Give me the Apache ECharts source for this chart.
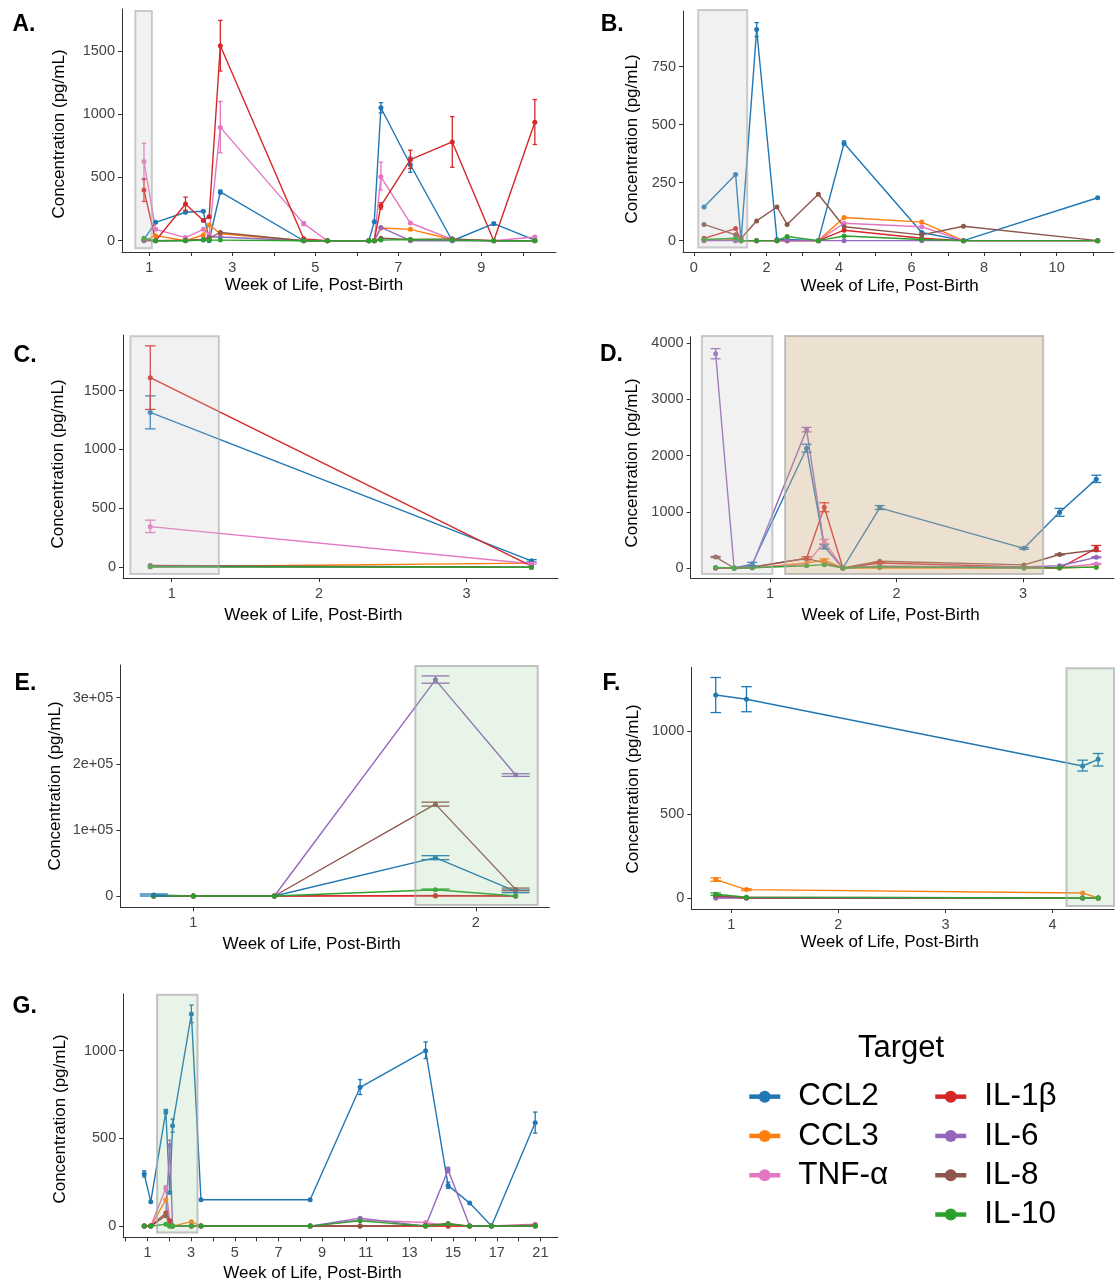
<!DOCTYPE html>
<html><head><meta charset="utf-8">
<script src="https://cdn.jsdelivr.net/npm/echarts@6/dist/echarts.min.js"></script>
<style>html,body{margin:0;padding:0;background:#fff}#c{width:1115px;height:1285px}</style>
</head><body><div id="c"></div>
<script>
// ---------------- DATA ----------------
const targets = ['CCL2', 'CCL3', 'TNF-α', 'IL-1β', 'IL-6', 'IL-8', 'IL-10'];

// Panel A
const aWeeks = [0.87, 1.15, 1.87, 2.30, 2.44, 2.71, 4.72, 5.29, 6.29, 6.42, 6.58, 7.29, 8.30, 9.30, 10.29];
const aCCL2 = [10, 145, 225, 233, 0, 385, 0, 0, 0, 150, 1050, 600, 0, 135, 5];
const aCCL3 = [0, 40, 0, 45, 125, 55, 0, 0, 0, 0, 100, 90, 10, 0, 0];
const aTNF  = [625, 90, 25, 90, 50, 895, 135, 0, 0, 0, 505, 140, 10, 0, 30];
const aIL1b = [400, 0, 290, 160, 190, 1540, 15, 0, 0, 0, 275, 640, 780, 0, 935];
const aIL6  = [0, 0, 0, 10, 30, 30, 0, 0, 0, 0, 105, 0, 0, 0, 0];
const aIL8  = [5, 0, 5, 10, 20, 65, 0, 0, 0, 0, 20, 10, 15, 0, 0];
const aIL10 = [20, 0, 0, 5, 5, 5, 0, 0, 0, 0, 5, 10, 5, 0, 0];
const aErrors = [
  ['TNF-α', 0.87, 480, 770], ['IL-1β', 0.87, 310, 490], ['IL-1β', 1.87, 240, 345],
  ['CCL2', 2.71, 370, 400], ['IL-1β', 2.71, 1340, 1740], ['TNF-α', 2.71, 695, 1100],
  ['TNF-α', 4.72, 120, 150], ['CCL2', 6.58, 1010, 1090], ['TNF-α', 6.58, 400, 620],
  ['IL-1β', 6.58, 250, 300], ['CCL2', 7.29, 540, 660], ['IL-1β', 7.29, 570, 715],
  ['IL-1β', 8.30, 580, 980], ['IL-1β', 10.29, 760, 1115], ['CCL2', 9.30, 125, 145]
];
const aWindows = [['grey', 0.66, -60, 1.06, 1815]];
const aXTicks = [1, 2, 3, 4, 5, 6, 7, 8, 9, 10];
const aXLabels = [1, 3, 5, 7, 9];
const aYTicks = [0, 500, 1000, 1500];

// Panel B
const bWeeks = [0.28, 1.15, 1.30, 1.73, 2.29, 2.57, 3.43, 4.14, 6.28, 7.43, 11.13];
const bCCL2 = [145, 285, 0, 910, 5, 5, 0, 420, 35, 0, 185];
const bCCL3 = [0, 5, 0, 0, 0, 0, 0, 100, 80, 0, 0];
const bTNF  = [5, 0, 0, 0, 0, 0, 0, 75, 60, 0, 0];
const bIL1b = [10, 52, 0, 0, 0, 0, 0, 45, 10, 0, 0];
const bIL6  = [0, 0, 0, 0, 0, 0, 0, 0, 0, 0, 0];
const bIL8  = [70, 25, 10, 85, 145, 70, 200, 60, 25, 62, 0];
const bIL10 = [5, 10, 0, 0, 0, 18, 0, 20, 5, 0, 0];
const bErrors = [['CCL2', 1.73, 880, 940], ['CCL2', 4.14, 412, 430]];
const bWindows = [['grey', 0.12, -30, 1.47, 994]];
const bXTicks = [0, 1, 2, 3, 4, 5, 6, 7, 8, 9, 10, 11];
const bXLabels = [0, 2, 4, 6, 8, 10];
const bYTicks = [0, 250, 500, 750];

// Panel C
const cWeeks = [0.855, 3.44];
const cCCL2 = [1315, 55];
const cCCL3 = [5, 35];
const cTNF  = [345, 30];
const cIL1b = [1610, 10];
const cIL6  = [5, 0];
const cIL8  = [15, 0];
const cIL10 = [5, 0];
const cErrors = [
  ['IL-1β', 0.855, 1340, 1880], ['CCL2', 0.855, 1175, 1455], ['TNF-α', 0.855, 295, 400],
  ['CCL2', 3.44, 45, 65], ['TNF-α', 3.44, 25, 40]
];
const cWindows = [['grey', 0.72, -57, 1.32, 1961]];
const cXTicks = [1, 2, 3];
const cXLabels = [1, 2, 3];
const cYTicks = [0, 500, 1000, 1500];

// Panel D
const dWeeks = [0.571, 0.717, 0.86, 1.29, 1.43, 1.577, 1.868, 3.008, 3.29, 3.58];
const dCCL2 = [0, 0, 70, 2130, 380, 0, 1070, 350, 990, 1580];
const dCCL3 = [0, 0, 0, 90, 140, 0, 5, 0, 0, 20];
const dTNF  = [0, 0, 10, 60, 470, 0, 30, 0, 10, 70];
const dIL1b = [0, 0, 10, 175, 1080, 0, 90, 20, 0, 350];
const dIL6  = [3810, 0, 50, 2460, 380, 0, 30, 20, 40, 190];
const dIL8  = [195, 0, 20, 170, 90, 0, 120, 55, 240, 320];
const dIL10 = [10, 0, 5, 40, 60, 0, 20, 0, 5, 15];
const dErrors = [
  ['IL-6', 0.571, 3720, 3900], ['IL-8', 0.571, 185, 205], ['CCL2', 0.86, 40, 100],
  ['IL-6', 1.29, 2420, 2500], ['CCL2', 1.29, 2060, 2200], ['IL-1β', 1.29, 150, 200],
  ['IL-1β', 1.43, 1000, 1160], ['TNF-α', 1.43, 430, 510], ['CCL2', 1.43, 340, 420],
  ['CCL3', 1.43, 110, 160], ['CCL2', 1.868, 1040, 1110], ['IL-1β', 1.868, 80, 110],
  ['CCL2', 3.008, 335, 365], ['CCL2', 3.29, 920, 1060], ['IL-8', 3.29, 230, 250],
  ['CCL2', 3.58, 1520, 1650], ['IL-1β', 3.58, 300, 400], ['IL-6', 3.58, 180, 200],
  ['TNF-α', 3.58, 60, 80]
];
const dWindows = [['grey', 0.462, -107, 1.02, 4124], ['tan', 1.12, -107, 3.16, 4124]];
const dXTicks = [1, 2, 3];
const dXLabels = [1, 2, 3];
const dYTicks = [0, 1000, 2000, 3000, 4000];

// Panel E
const eWeeks = [0.86, 1.0, 1.287, 1.857, 2.141];
const eCCL2 = [1500, 0, 0, 58000, 7000];
const eCCL3 = [0, 0, 0, 0, 0];
const eTNF  = [0, 0, 0, 800, 0];
const eIL1b = [0, 0, 0, 500, 0];
const eIL6  = [0, 0, 0, 327000, 183000];
const eIL8  = [0, 0, 0, 139000, 10000];
const eIL10 = [0, 0, 0, 9500, 0];
const eErrors = [
  ['IL-6', 1.857, 322000, 333000], ['IL-6', 2.141, 181000, 185000],
  ['IL-8', 1.857, 136000, 142000], ['IL-8', 2.141, 8000, 12000],
  ['CCL2', 1.857, 55000, 61000], ['CCL2', 2.141, 5000, 9000],
  ['CCL2', 0.86, 0, 3000], ['IL-10', 1.857, 8500, 10500]
];
const eWindows = [['green', 1.786, -13600, 2.219, 348000]];
const eXTicks = [1, 2];
const eXLabels = [1, 2];
const eYTicks = [0, 100000, 200000, 300000];
const eYLabels = ['0', '1e+05', '2e+05', '3e+05'];

// Panel F
const fWeeks = [0.855, 1.142, 4.28, 4.425];
const fCCL2 = [1215, 1190, 790, 830];
const fCCL3 = [110, 50, 30, 0];
const fTNF  = [0, 5, 0, 0];
const fIL1b = [10, 0, 0, 0];
const fIL6  = [0, 0, 0, 0];
const fIL8  = [15, 0, 0, 0];
const fIL10 = [22, 5, 0, 0];
const fErrors = [
  ['CCL2', 0.855, 1110, 1320], ['CCL2', 1.142, 1115, 1265], ['CCL2', 4.28, 760, 825],
  ['CCL2', 4.425, 790, 865], ['CCL3', 0.855, 100, 120], ['CCL3', 1.142, 45, 55],
  ['IL-10', 0.855, 15, 30]
];
const fWindows = [['green', 4.13, -48, 4.573, 1375]];
const fXTicks = [1, 2, 3, 4];
const fXLabels = [1, 2, 3, 4];
const fYTicks = [0, 500, 1000];

// Panel G
const gWeeks = [0.85, 1.15, 1.84, 2.02, 2.15, 3.01, 3.45, 8.45, 10.74, 13.74, 14.77, 15.76, 16.76, 18.76];
const gCCL2 = [297, 139, 652, 192, 572, 1209, 150, 150, 791, 1000, 232, 131, 0, 589];
const gCCL3 = [0, 0, 150, 0, 0, 25, 0, 0, 0, 0, 0, 0, 0, 0];
const gTNF  = [0, 0, 215, 30, 0, 0, 0, 0, 35, 20, 0, 0, 0, 10];
const gIL1b = [0, 0, 75, 30, 0, 0, 0, 0, 0, 0, 0, 0, 0, 0];
const gIL6  = [0, 0, 60, 460, 0, 0, 0, 0, 45, 0, 320, 0, 0, 0];
const gIL8  = [0, 0, 60, 0, 0, 0, 0, 0, 0, 5, 15, 0, 0, 5];
const gIL10 = [0, 0, 10, 0, 0, 0, 0, 0, 30, 0, 10, 0, 0, 0];
const gErrors = [
  ['CCL2', 0.85, 280, 315], ['CCL2', 1.84, 640, 665], ['CCL2', 2.15, 535, 610],
  ['CCL2', 3.01, 1160, 1260], ['CCL2', 10.74, 750, 835], ['CCL2', 13.74, 955, 1050],
  ['CCL2', 14.77, 215, 250], ['CCL2', 18.76, 530, 650], ['TNF-α', 1.84, 200, 230],
  ['IL-6', 2.02, 440, 490], ['IL-6', 14.77, 305, 335]
];
const gWindows = [['green', 1.44, -36, 3.29, 1319]];
const gXTicks = [0, 1, 2, 3, 4, 5, 6, 7, 8, 9, 10, 11, 12, 13, 14, 15, 16, 17, 18, 19];
const gXLabelValues = [1, 3, 5, 7, 9, 11, 13, 15, 17, 19];
const gXLabelTexts = ['1', '3', '5', '7', '9', '11', '13', '15', '17', '21'];
const gYTicks = [0, 500, 1000];

// ---------------- STYLE / LAYOUT ----------------
const FONT = '"Liberation Sans", Arial, Helvetica, sans-serif';
const colors = ['#1f77b4', '#ff7f0e', '#e377c2', '#d62728', '#9467bd', '#8c564b', '#2ca02c'];
const windowStyles = {
  grey:  { fill: 'rgba(200,200,200,0.25)', stroke: 'rgba(170,170,170,0.6)' },
  tan:   { fill: 'rgba(205,175,135,0.38)', stroke: 'rgba(170,170,170,0.7)' },
  green: { fill: 'rgba(140,200,140,0.2)',  stroke: 'rgba(170,170,170,0.7)' }
};

const panels = [
  { letter: 'A.', weeks: aWeeks, vals: [aCCL2, aCCL3, aTNF, aIL1b, aIL6, aIL8, aIL10], err: aErrors, win: aWindows,
    xt: aXTicks, xl: aXLabels, yt: aYTicks,
    L: { left: 122, top: 9, width: 434, height: 243, xMin: 0.34, xMax: 10.8, yMin: -89, yMax: 1830, cap: 2.2, letter: [12.5, 25], xTitle: [314, 285], yTitle: [59, 134] } },
  { letter: 'B.', weeks: bWeeks, vals: [bCCL2, bCCL3, bTNF, bIL1b, bIL6, bIL8, bIL10], err: bErrors, win: bWindows,
    xt: bXTicks, xl: bXLabels, yt: bYTicks,
    L: { left: 683, top: 11, width: 431, height: 241, xMin: -0.30, xMax: 11.58, yMin: -49, yMax: 990, cap: 2.2, letter: [600.7, 25], xTitle: [889.6, 286], yTitle: [632.6, 139] } },
  { letter: 'C.', weeks: cWeeks, vals: [cCCL2, cCCL3, cTNF, cIL1b, cIL6, cIL8, cIL10], err: cErrors, win: cWindows,
    xt: cXTicks, xl: cXLabels, yt: cYTicks,
    L: { left: 123, top: 335, width: 435, height: 243, xMin: 0.67, xMax: 3.62, yMin: -91, yMax: 1972, cap: 5.2, letter: [13.6, 355.8], xTitle: [313.4, 615], yTitle: [58, 464] } },
  { letter: 'D.', weeks: dWeeks, vals: [dCCL2, dCCL3, dTNF, dIL1b, dIL6, dIL8, dIL10], err: dErrors, win: dWindows,
    xt: dXTicks, xl: dXLabels, yt: dYTicks,
    L: { left: 690.6, top: 336.7, width: 423.4, height: 241.6, xMin: 0.373, xMax: 3.72, yMin: -183, yMax: 4112, cap: 5, letter: [600, 355.5], xTitle: [890.6, 615], yTitle: [632.6, 463] } },
  { letter: 'E.', weeks: eWeeks, vals: [eCCL2, eCCL3, eTNF, eIL1b, eIL6, eIL8, eIL10], err: eErrors, win: eWindows,
    xt: eXTicks, xl: eXLabels, yt: eYTicks, ylText: eYLabels,
    L: { left: 120.4, top: 665, width: 428.9, height: 242.3, xMin: 0.742, xMax: 2.26, yMin: -17100, yMax: 349500, cap: 14, letter: [14.6, 683.8], xTitle: [311.6, 944], yTitle: [55.4, 786] } },
  { letter: 'F.', weeks: fWeeks, vals: [fCCL2, fCCL3, fTNF, fIL1b, fIL6, fIL8, fIL10], err: fErrors, win: fWindows,
    xt: fXTicks, xl: fXLabels, yt: fYTicks,
    L: { left: 691.3, top: 667.3, width: 422.7, height: 241.7, xMin: 0.627, xMax: 4.573, yMin: -66, yMax: 1381, cap: 5.3, letter: [602.5, 683.8], xTitle: [889.7, 942.3], yTitle: [633.3, 789] } },
  { letter: 'G.', weeks: gWeeks, vals: [gCCL2, gCCL3, gTNF, gIL1b, gIL6, gIL8, gIL10], err: gErrors, win: gWindows,
    xt: gXTicks, xl: gXLabelValues, xlText: gXLabelTexts, yt: gYTicks,
    L: { left: 123.2, top: 994, width: 434.7, height: 243.3, xMin: -0.113, xMax: 19.8, yMin: -64, yMax: 1323, cap: 2.2, letter: [12.5, 1006.7], xTitle: [312.5, 1273.3], yTitle: [60.7, 1119] } }
];

const grids = [], xAxes = [], yAxes = [], series = [], graphics = [];
const axisCommon = {
  axisLine: { show: true, onZero: false, lineStyle: { color: '#333', width: 1 } },
  splitLine: { show: false }
};

panels.forEach((p, i) => {
  const L = p.L;
  grids.push({ left: L.left, top: L.top, width: L.width, height: L.height, containLabel: false });
  xAxes.push(Object.assign({}, axisCommon, {
    type: 'value', gridIndex: i, min: L.xMin, max: L.xMax,
    axisTick: { show: true, length: 4, lineStyle: { color: '#333' }, customValues: p.xt },
    axisLabel: { customValues: p.xl, color: '#444', fontSize: 14.5, fontFamily: FONT, margin: 8,
      formatter: (v) => p.xlText ? p.xlText[p.xl.indexOf(v)] : String(v) }
  }));
  yAxes.push(Object.assign({}, axisCommon, {
    type: 'value', gridIndex: i, min: L.yMin, max: L.yMax,
    axisTick: { show: true, length: 4, lineStyle: { color: '#333' }, customValues: p.yt },
    axisLabel: { customValues: p.yt, color: '#444', fontSize: 14.5, fontFamily: FONT, margin: 7,
      formatter: (v) => p.ylText ? p.ylText[p.yt.indexOf(v)] : String(v) }
  }));

  // lines
  targets.forEach((t, k) => {
    series.push({
      type: 'line', name: t, xAxisIndex: i, yAxisIndex: i,
      data: p.weeks.map((w, j) => [w, p.vals[k][j]]),
      symbol: 'circle', symbolSize: 5, showSymbol: true,
      lineStyle: { width: 1.4, color: colors[k] }, itemStyle: { color: colors[k] },
      emphasis: { disabled: true }, z: 2
    });
  });

  // error bars
  targets.forEach((t, k) => {
    const rows = p.err.filter(e => e[0] === t).map(e => [e[1], e[2], e[3]]);
    if (!rows.length) return;
    const cap = L.cap;
    series.push({
      type: 'custom', name: 'err' + p.letter + t, xAxisIndex: i, yAxisIndex: i, z: 3,
      data: rows, encode: { x: 0, y: [1, 2] }, silent: true,
      renderItem: (params, api) => {
        const x = api.value(0);
        const a = api.coord([x, api.value(1)]);
        const b = api.coord([x, api.value(2)]);
        const st = { stroke: colors[k], lineWidth: 1.3 };
        return { type: 'group', children: [
          { type: 'line', shape: { x1: a[0], y1: a[1], x2: b[0], y2: b[1] }, style: st },
          { type: 'line', shape: { x1: a[0] - cap, y1: a[1], x2: a[0] + cap, y2: a[1] }, style: st },
          { type: 'line', shape: { x1: b[0] - cap, y1: b[1], x2: b[0] + cap, y2: b[1] }, style: st }
        ] };
      }
    });
  });

  // shaded windows (drawn over the lines, semi-transparent)
  series.push({
    type: 'custom', name: 'win' + p.letter, xAxisIndex: i, yAxisIndex: i, z: 5, silent: true,
    data: p.win.map(w => [w[1], w[2], w[3], w[4], ['grey', 'tan', 'green'].indexOf(w[0])]),
    encode: { x: [0, 2], y: [1, 3] },
    renderItem: (params, api) => {
      const a = api.coord([api.value(0), api.value(3)]);
      const b = api.coord([api.value(2), api.value(1)]);
      const ws = windowStyles[['grey', 'tan', 'green'][api.value(4)]];
      return { type: 'rect', shape: { x: a[0], y: a[1], width: b[0] - a[0], height: b[1] - a[1] },
        style: { fill: ws.fill, stroke: ws.stroke, lineWidth: 2 } };
    }
  });

  // texts
  graphics.push({ type: 'text', left: L.letter[0], top: L.letter[1] - 12,
    style: { text: p.letter, font: 'bold 23px ' + FONT, fill: '#000' } });
  graphics.push({ type: 'text', x: L.xTitle[0], y: L.xTitle[1],
    style: { text: 'Week of Life, Post-Birth', font: '17px ' + FONT, fill: '#000', textAlign: 'center', textVerticalAlign: 'middle' } });
  graphics.push({ type: 'text', x: L.yTitle[0], y: L.yTitle[1], rotation: Math.PI / 2,
    style: { text: 'Concentration (pg/mL)', font: '17px ' + FONT, fill: '#000', textAlign: 'center', textVerticalAlign: 'middle' } });
});

graphics.push({ type: 'text', x: 901, y: 1048,
  style: { text: 'Target', font: '31px ' + FONT, fill: '#000', textAlign: 'center', textVerticalAlign: 'middle' } });

const legendCommon = {
  orient: 'vertical', itemWidth: 31, itemHeight: 15, itemGap: 0, padding: 0,
  selectedMode: false,
  textStyle: { fontSize: 31.5, fontFamily: FONT, color: '#000', lineHeight: 39.3, padding: [0, 0, 0, 13] },
  lineStyle: { width: 4.5 }
};

const option = {
  animation: false,
  backgroundColor: '#fff',
  grid: grids, xAxis: xAxes, yAxis: yAxes, series: series,
  legend: [
    Object.assign({}, legendCommon, { data: ['CCL2', 'CCL3', 'TNF-α'], left: 747, top: 1077 }),
    Object.assign({}, legendCommon, { data: ['IL-1β', 'IL-6', 'IL-8', 'IL-10'], left: 933, top: 1077 })
  ],
  graphic: graphics
};

const chart = echarts.init(document.getElementById('c'), null, { renderer: 'canvas', width: 1115, height: 1285 });
chart.setOption(option);
</script>
</body></html>
